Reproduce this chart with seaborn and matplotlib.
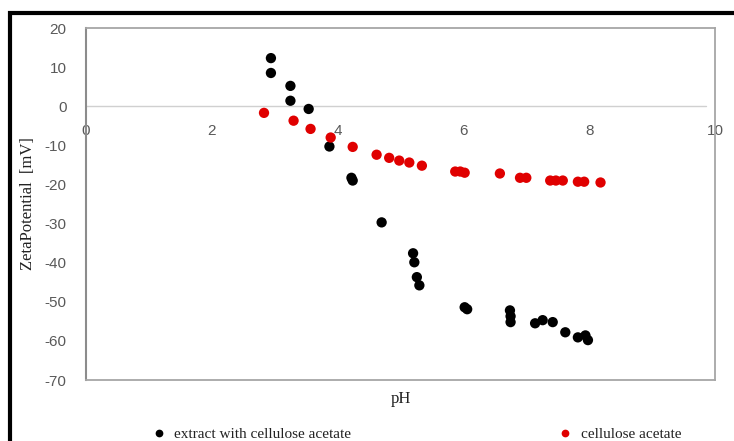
import numpy as np
import pandas as pd
import matplotlib
matplotlib.use("Agg")
import matplotlib.pyplot as plt
import seaborn as sns
from matplotlib.patches import Rectangle

# ---- data ----
ph_extract = [2.94, 2.94, 3.25, 3.25, 3.54, 3.87, 4.22, 4.24, 4.70, 5.20, 5.22, 5.26,
              5.30, 6.02, 6.06, 6.74, 6.75, 6.75, 7.14, 7.26, 7.42, 7.62, 7.82, 7.94, 7.98]
zeta_extract = [12.3, 8.5, 5.2, 1.4, -0.7, -10.3, -18.3, -19.0, -29.7, -37.6, -39.9, -43.7,
                -45.8, -51.4, -51.9, -52.2, -53.7, -55.2, -55.5, -54.7, -55.2, -57.8, -59.1, -58.6, -59.8]
ph_ca = [2.83, 3.30, 3.57, 3.89, 4.24, 4.62, 4.82, 4.98, 5.14, 5.34, 5.87, 5.95, 6.02,
         6.58, 6.90, 7.00, 7.38, 7.47, 7.58, 7.82, 7.92, 8.18]
zeta_ca = [-1.7, -3.7, -5.8, -8.0, -10.4, -12.4, -13.2, -13.9, -14.4, -15.2, -16.7, -16.7, -17.0,
           -17.2, -18.3, -18.3, -19.0, -19.0, -19.0, -19.3, -19.3, -19.5]
series_names = ["extract with cellulose acetate", "cellulose acetate"]
x_ticks = [0, 2, 4, 6, 8, 10]
y_ticks = [20, 10, 0, -10, -20, -30, -40, -50, -60, -70]

df = pd.DataFrame({
    "pH": ph_extract + ph_ca,
    "zeta": zeta_extract + zeta_ca,
    "series": [series_names[0]] * len(ph_extract) + [series_names[1]] * len(ph_ca),
})

sns.set_theme(style="white")
plt.rcParams["font.family"] = ["Liberation Serif", "DejaVu Serif"]
plt.rcParams["axes.unicode_minus"] = False

fig = plt.figure(figsize=(7.34, 4.41), dpi=100)
ax = fig.add_axes([86 / 734, 1 - 380 / 441, (715 - 86) / 734, (380 - 28) / 441])

palette = {series_names[0]: "#000000", series_names[1]: "#e00000"}
sns.scatterplot(data=df, x="pH", y="zeta", hue="series", palette=palette,
                s=55, edgecolor="none", ax=ax, legend=True, zorder=3)

ax.set_xlim(0, 10)
ax.set_ylim(-70, 20)
ax.set_yticks(y_ticks)
ax.set_xticks([])
ax.plot([0, 9.85], [0, 0], color="#d0d0d0", lw=1.0, zorder=1)

for s in ax.spines.values():
    s.set_color("#a6a6a6")
    s.set_linewidth(1.3)
ax.spines["left"].set_color("#8c8c8c")
ax.spines["left"].set_linewidth(1.5)

ax.tick_params(axis="y", length=0, pad=14, labelsize=11, labelcolor="#595959")
for lbl in ax.get_yticklabels():
    lbl.set_family(["Liberation Sans", "DejaVu Sans"])

# x axis crossing at y = 0
sec = ax.secondary_xaxis(1 - 20 / 90)
sec.set_xticks(x_ticks)
sec.xaxis.set_ticks_position("bottom")
sec.xaxis.set_label_position("bottom")
for s in sec.spines.values():
    s.set_visible(False)
sec.tick_params(axis="x", length=0, pad=13, labelsize=11, labelcolor="#595959",
                labelbottom=True, labeltop=False)
for lbl in sec.get_xticklabels():
    lbl.set_family(["Liberation Sans", "DejaVu Sans"])

ax.set_xlabel("pH", fontsize=12, labelpad=8, color="#222222")
ax.set_ylabel("ZetaPotential  [mV]", fontsize=12, labelpad=6, color="#222222")

handles, labels = ax.get_legend_handles_labels()
ax.legend_.remove()
leg = fig.legend(handles, labels, loc="lower center", ncol=2, frameon=False,
                 bbox_to_anchor=(0.562, -0.032), fontsize=11, columnspacing=13,
                 handletextpad=0.0, markerscale=0.75)
for t in leg.get_texts():
    t.set_color("#222222")

fig.add_artist(Rectangle((10 / 734, -0.1), 1.2, 1.1 - 13 / 441, transform=fig.transFigure,
                         fill=False, edgecolor="black", lw=3))

fig.savefig("out.png", dpi=100)
